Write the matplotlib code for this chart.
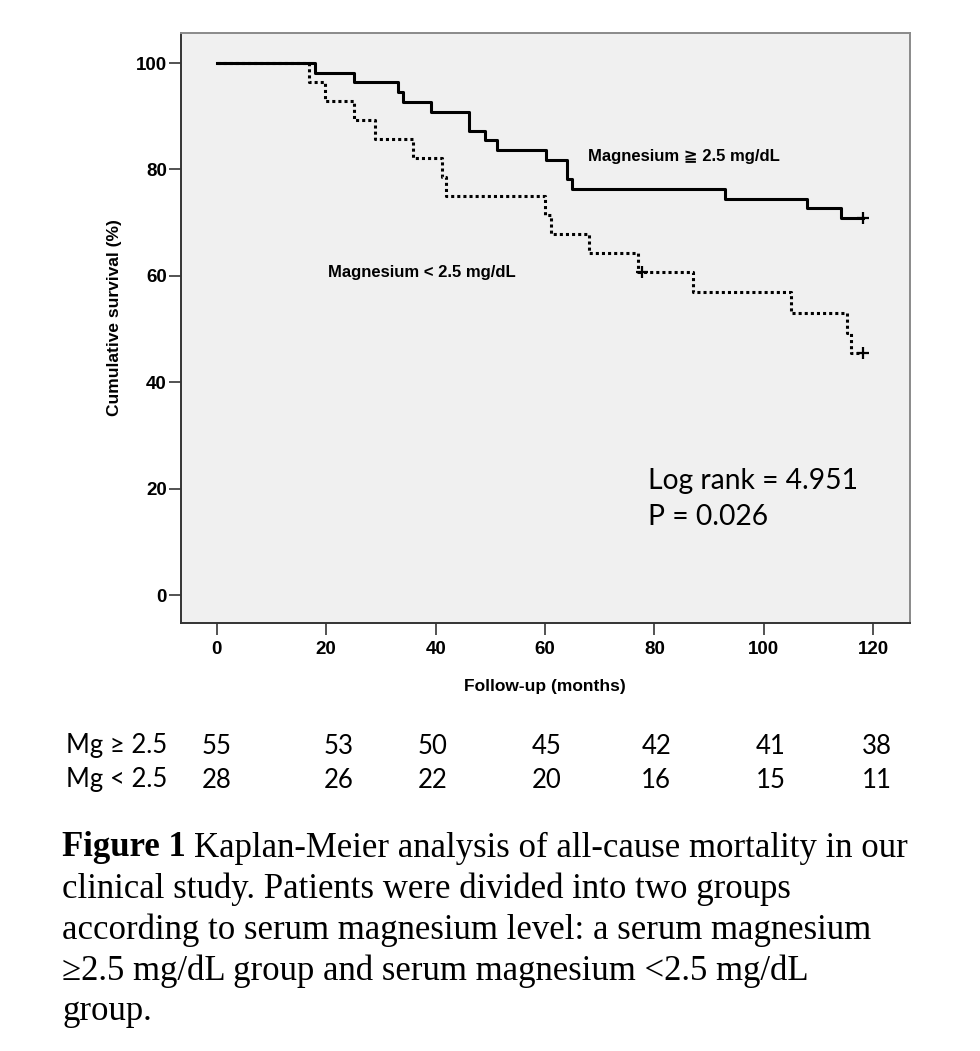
# Kaplan-Meier curves, serum magnesium groups
import numpy as np
import matplotlib
matplotlib.use("Agg")
import matplotlib.pyplot as plt
import matplotlib.transforms as mtransforms

# event times (months) and survival (%) after each drop
t_high = [18.0, 25.0, 33.2, 34.0, 39.1, 46.1, 49.0, 51.2, 60.1, 64.0, 64.9, 92.8, 107.9, 114.0]
s_high = [98.2, 96.4, 94.5, 92.7, 90.9, 87.3, 85.5, 83.6, 81.8, 78.2, 76.4, 74.5, 72.7, 70.9]
end_high = 118.2
cens_high = [118.2]

t_low = [16.9, 19.8, 25.0, 28.9, 35.9, 41.1, 41.9, 60.0, 61.0, 68.1, 77.0, 87.0, 105.0, 115.1, 115.9]
s_low = [96.4, 92.9, 89.3, 85.7, 82.1, 78.6, 75.0, 71.4, 67.9, 64.3, 60.7, 56.9, 53.1, 49.3, 45.5]
end_low = 118.1
cens_low = [77.7, 118.1]

# numbers at risk
risk_times = [0, 20, 40, 60, 80, 100, 120]
risk_high = [55, 53, 50, 45, 42, 41, 38]
risk_low = [28, 26, 22, 20, 16, 15, 11]
risk_labels = ["Mg \u2265 2.5", "Mg < 2.5"]

caption_lines = [
    "clinical study. Patients were divided into two groups",
    "according to serum magnesium level: a serum magnesium",
    "\u22652.5 mg/dL group and serum magnesium <2.5 mg/dL",
    "group.",
]


def km_steps(times, surv, end):
    x = [0.0] + list(times) + [end]
    y = [100.0] + list(surv) + [surv[-1]]
    return x, y


def surv_at(times, surv, t):
    val = 100.0
    for ti, si in zip(times, surv):
        if ti <= t:
            val = si
    return val


W, H = 980, 1051
fig = plt.figure(figsize=(W / 100, H / 100), dpi=100)
ax = fig.add_axes([180.7 / W, 1 - 623.3 / H, (910 - 180.7) / W, (623.3 - 33.3) / H])
ax.set_facecolor("#f0f0f0")

x, y = km_steps(t_high, s_high, end_high)
ax.step(x, y, where="post", color="black", lw=2.2)
x, y = km_steps(t_low, s_low, end_low)
ax.step(x, y, where="post", color="black", lw=2.2, linestyle=(0, (1, 1)), dash_capstyle="butt")

ax.plot(cens_high, [surv_at(t_high, s_high, c) for c in cens_high], "+",
        color="black", ms=9, mew=1.6)
ax.plot(cens_low, [surv_at(t_low, s_low, c) for c in cens_low], "+",
        color="black", ms=9, mew=1.6)

ax.set_xlim(-6.6, 126.7)
ax.set_ylim(-5.3, 105.6)
ax.set_xticks(range(0, 121, 20))
ax.set_yticks(range(0, 101, 20))

bold = dict(family="Liberation Sans", weight="bold")
for lab in ax.get_xticklabels() + ax.get_yticklabels():
    lab.set_fontfamily("Liberation Sans")
    lab.set_fontweight("bold")
    lab.set_fontsize(13.5)
ax.tick_params(axis="x", length=8.5, width=1.3, pad=4.5, color="#444444")
ax.tick_params(axis="y", length=8.5, width=1.3, pad=1.5, color="#444444")

for side in ["left", "bottom"]:
    ax.spines[side].set_color("#333333")
    ax.spines[side].set_linewidth(1.4)
for side in ["top", "right"]:
    ax.spines[side].set_color("#8a8a8a")
    ax.spines[side].set_linewidth(1.4)

ax.set_xlabel("Follow-up (months)", fontsize=12.5, va="center", **bold)
ax.xaxis.set_label_coords(0.5, -0.1063)
ax.set_ylabel("Cumulative survival (%)", fontsize=12.5, va="center", **bold)
ax.yaxis.set_label_coords(-0.0901, 0.519)

ax.text(67.9, 82.5, "Magnesium \u2267 2.5 mg/dL", fontsize=12, va="center",
        family=["Liberation Sans", "DejaVu Sans"], weight="bold")
ax.text(20.4, 60.7, "Magnesium < 2.5 mg/dL", fontsize=12, va="center", **bold)

ax.text(78.8, 20.0, "Log rank = 4.951", fontsize=20.3, family="Lato", va="baseline")
ax.text(78.8, 13.1, "P = 0.026", fontsize=20.3, family="Lato", va="baseline")

# numbers at risk, x from the axis scale, y in figure pixels
trans = mtransforms.blended_transform_factory(ax.transData, fig.transFigure)
nudge = [0, 2.2, -0.5, 0.2, 0.3, 1.3, 0.7]
for row, (vals, ypix) in enumerate([(risk_high, 746), (risk_low, 780)]):
    fig.text(66 / W, 1 - ypix / H, risk_labels[row], fontsize=18.5,
             family=["Lato", "DejaVu Sans"], va="center", ha="left")
    for t, v, dx in zip(risk_times, vals, nudge):
        ax.text(t + dx, 1 - ypix / H, str(v), transform=trans, fontsize=18.5,
                family="Lato", va="center", ha="center")

# caption
r = fig.canvas.get_renderer()
cap_size = 25
fig_lbl = fig.text(62 / W, 1 - 848 / H, "Figure 1", fontsize=cap_size,
                   family="Liberation Serif", weight="bold", va="center")
bb = fig_lbl.get_window_extent(renderer=r)
fig.text((bb.x1 + 8) / W, 1 - 848 / H, "Kaplan-Meier analysis of all-cause mortality in our",
         fontsize=cap_size, family="Liberation Serif", va="center")
for i, line in enumerate(caption_lines):
    fig.text(62 / W, 1 - (889 + 41 * i) / H, line, fontsize=cap_size,
             family=["Liberation Serif", "DejaVu Serif"], va="center")

fig.savefig("out.png", dpi=100, facecolor="white")
